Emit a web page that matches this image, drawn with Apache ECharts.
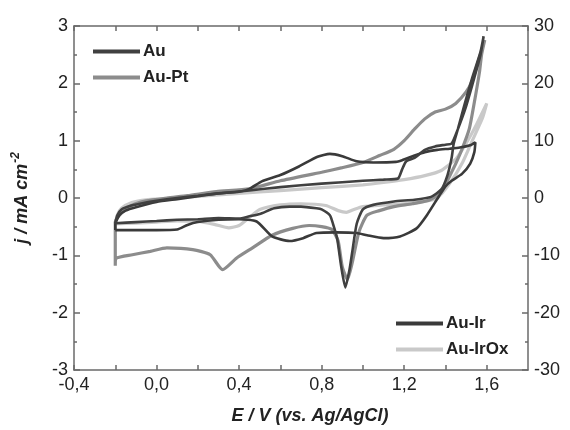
<!DOCTYPE html>
<html>
<head>
<meta charset="utf-8">
<script src="https://cdn.jsdelivr.net/npm/echarts@6/dist/echarts.min.js"></script>
<style>
html,body{margin:0;padding:0;background:#fff;}
#c{width:570px;height:430px;}
</style>
</head>
<body>
<div id="c"></div>
<script>
// ---- data (E in V vs Ag/AgCl, j in mA cm-2) ----
// Au (left axis)
var auE = [-0.2,-0.19,-0.17,-0.13,-0.08,0.0,0.1,0.2,0.3,0.45,0.6,0.8,1.0,1.1,1.17,1.19,1.21,1.25,1.3,1.35,1.4,1.43,1.46,1.5,1.54,1.57,1.585,
           1.57,1.53,1.49,1.46,1.44,1.43,1.41,1.38,1.33,1.25,1.15,1.05,1.0,0.97,0.95,0.935,0.915,0.895,0.875,0.855,0.84,0.8,0.775,0.7,0.645,0.57,0.5,0.45,0.4,0.3,0.2,0.1,0.0,-0.1,-0.2];
var auJ = [-0.44,-0.3,-0.2,-0.14,-0.1,-0.05,0.0,0.04,0.08,0.13,0.19,0.25,0.3,0.32,0.34,0.5,0.64,0.7,0.84,0.9,0.93,0.95,1.2,1.6,2.1,2.5,2.82,
           2.55,2.1,1.6,1.2,0.95,0.7,0.4,0.15,0.02,-0.03,-0.06,-0.12,-0.2,-0.45,-0.9,-1.25,-1.56,-1.2,-0.7,-0.45,-0.3,-0.2,-0.18,-0.15,-0.15,-0.18,-0.28,-0.32,-0.36,-0.35,-0.37,-0.38,-0.4,-0.42,-0.44];
// Au-Pt (left axis)
var ptE = [-0.2,-0.2,-0.18,-0.12,-0.05,0.05,0.15,0.29,0.45,0.6,0.8,0.9,1.0,1.08,1.15,1.2,1.25,1.3,1.35,1.4,1.45,1.5,1.53,1.56,1.59,
           1.575,1.565,1.54,1.515,1.48,1.45,1.42,1.38,1.32,1.24,1.15,1.08,1.02,0.98,0.95,0.925,0.9,0.88,0.85,0.8,0.74,0.66,0.56,0.465,0.387,0.32,0.26,0.175,0.05,-0.03,-0.117,-0.195,-0.2];
var ptJ = [-1.18,-0.42,-0.3,-0.13,-0.05,0.0,0.04,0.11,0.16,0.3,0.45,0.53,0.62,0.74,0.85,1.0,1.2,1.38,1.5,1.55,1.65,1.85,2.05,2.4,2.75,
           2.5,2.2,1.67,1.2,0.85,0.6,0.38,0.1,-0.04,-0.1,-0.15,-0.22,-0.3,-0.6,-1.1,-1.42,-1.2,-0.75,-0.55,-0.5,-0.48,-0.53,-0.65,-0.87,-1.05,-1.25,-0.99,-0.9,-0.87,-0.93,-0.99,-1.05,-1.18];
// Au-Ir (right axis)
var irE = [-0.2,-0.2,-0.18,-0.15,-0.1,0.0,0.1,0.2,0.3,0.4,0.45,0.51,0.6,0.69,0.78,0.84,0.9,0.97,1.05,1.16,1.19,1.25,1.3,1.36,1.42,1.47,1.52,1.545,
           1.54,1.52,1.48,1.43,1.4,1.37,1.31,1.26,1.18,1.1,1.02,0.97,0.87,0.775,0.71,0.645,0.56,0.485,0.4,0.3,0.2,0.15,0.1,0.0,-0.1,-0.2];
var irJ = [-5.6,-4.6,-3.0,-2.2,-1.6,-0.7,-0.2,0.3,0.8,1.1,1.6,2.9,4.0,5.5,7.2,7.7,7.3,6.4,6.2,6.3,6.6,7.4,8.0,8.4,8.6,8.8,9.2,9.7,
           8.0,6.0,4.2,3.0,2.0,0.4,-3.0,-5.3,-6.7,-7.0,-6.5,-6.1,-6.0,-6.1,-7.0,-7.5,-6.7,-4.1,-3.7,-3.8,-4.2,-4.7,-5.5,-5.6,-5.6,-5.6];
// Au-IrOx (right axis)
var oxE = [-0.2,-0.19,-0.17,-0.12,-0.05,0.05,0.2,0.4,0.6,0.8,1.0,1.1,1.2,1.3,1.38,1.45,1.5,1.55,1.6,
           1.58,1.53,1.48,1.42,1.36,1.3,1.2,1.1,1.0,0.95,0.92,0.88,0.82,0.7,0.6,0.5,0.45,0.4,0.35,0.28,0.2,0.1,0.0,-0.1,-0.2];
var oxJ = [-4.5,-3.0,-1.8,-0.8,-0.3,-0.1,0.3,0.8,1.3,1.8,2.3,2.7,3.2,3.9,4.8,6.8,9.5,12.8,16.5,
           14.0,10.0,6.0,2.5,0.0,-0.6,-1.0,-1.2,-1.5,-2.1,-2.5,-2.2,-1.3,-1.0,-1.2,-2.0,-3.4,-4.8,-5.2,-4.6,-4.1,-4.0,-4.2,-4.4,-4.5];

var seriesNames = ['Au', 'Au-Pt', 'Au-Ir', 'Au-IrOx'];
var xTickLabels = ['-0,4', '0,0', '0,4', '0,8', '1,2', '1,6'];

function zip(a, b) { var r = []; for (var i = 0; i < Math.min(a.length, b.length); i++) r.push([a[i], b[i]]); return r; }

var FONT = "'Liberation Sans', Arial, Helvetica, sans-serif";
var AX = '#6a6a6a';

var chart = echarts.init(document.getElementById('c'), null, {renderer: 'canvas'});

function xLabel(v) {
  var k = Math.round(v * 10);
  if (k % 4 !== 0) return '';
  var idx = Math.round((v + 0.4) / 0.4);
  return xTickLabels[idx] || '';
}

var option = {
  animation: false,
  backgroundColor: '#fff',
  grid: {left: 74, right: 42, top: 26, bottom: 57, containLabel: false},
  xAxis: [{
    type: 'value', min: -0.4, max: 1.8, interval: 0.2, position: 'bottom',
    axisLine: {show: true, onZero: false, lineStyle: {color: AX, width: 1.5}},
    axisTick: {show: true, inside: true, length: 5, lineStyle: {color: AX, width: 1.5}},
    axisLabel: {formatter: xLabel, color: '#222', fontSize: 18, fontFamily: FONT, margin: 6, showMaxLabel: false},
    splitLine: {show: false},
    name: 'E / V (vs. Ag/AgCl)', nameLocation: 'middle', nameGap: 37,
    nameTextStyle: {fontSize: 18, fontWeight: 'bold', fontStyle: 'italic', color: '#222', fontFamily: FONT, padding: [0, 0, 0, 18]}
  }, {
    type: 'value', min: -0.4, max: 1.8, interval: 0.2, position: 'top',
    axisLine: {show: true, onZero: false, lineStyle: {color: AX, width: 1.5}},
    axisTick: {show: true, inside: true, length: 5, lineStyle: {color: AX, width: 1.5}},
    axisLabel: {show: false}, splitLine: {show: false}
  }],
  yAxis: [{
    type: 'value', min: -3, max: 3, interval: 1, position: 'left',
    axisLine: {show: true, onZero: false, lineStyle: {color: AX, width: 1.5}},
    axisTick: {show: true, inside: true, length: 6, lineStyle: {color: AX, width: 1.5}},
    minorTick: {show: true, splitNumber: 2, length: 3, lineStyle: {color: AX, width: 1.5}},
    axisLabel: {color: '#222', fontSize: 18, fontFamily: FONT, margin: 6},
    splitLine: {show: false},
    name: '{a|j / mA cm}{s|-2}', nameLocation: 'middle', nameGap: 40, nameRotate: 90,
    nameTextStyle: {
      color: '#222', fontFamily: FONT,
      rich: {
        a: {fontSize: 18, fontWeight: 'bold', fontStyle: 'italic', color: '#222', fontFamily: FONT, lineHeight: 24},
        s: {fontSize: 12, fontWeight: 'bold', fontStyle: 'italic', color: '#222', fontFamily: FONT, verticalAlign: 'top', lineHeight: 24, padding: [0, 0, 10, 1]}
      }
    }
  }, {
    type: 'value', min: -30, max: 30, interval: 10, position: 'right',
    axisLine: {show: true, onZero: false, lineStyle: {color: AX, width: 1.5}},
    axisTick: {show: true, inside: true, length: 6, lineStyle: {color: AX, width: 1.5}},
    minorTick: {show: true, splitNumber: 2, length: 3, lineStyle: {color: AX, width: 1.5}},
    axisLabel: {color: '#222', fontSize: 18, fontFamily: FONT, margin: 6},
    splitLine: {show: false}
  }],
  legend: [{
    data: [seriesNames[0], seriesNames[1]], orient: 'vertical', left: 93, top: 43, padding: 0,
    itemWidth: 47, itemHeight: 4, itemGap: 9, icon: 'rect',
    textStyle: {fontSize: 17, fontWeight: 'bold', color: '#222', fontFamily: FONT, padding: [0, 0, 0, -2]}
  }, {
    data: [seriesNames[2], seriesNames[3]], orient: 'vertical', left: 396, top: 315, padding: 0,
    itemWidth: 47, itemHeight: 4, itemGap: 9, icon: 'rect',
    textStyle: {fontSize: 17, fontWeight: 'bold', color: '#222', fontFamily: FONT, padding: [0, 0, 0, -2]}
  }],
  series: [{
    name: 'Au-IrOx', type: 'line', xAxisIndex: 0, yAxisIndex: 1, data: zip(oxE, oxJ),
    showSymbol: false, smooth: 0.2, color: '#c9c9c9', lineStyle: {color: '#c9c9c9', width: 3.2}
  }, {
    name: 'Au-Pt', type: 'line', xAxisIndex: 0, yAxisIndex: 0, data: zip(ptE, ptJ),
    showSymbol: false, smooth: 0.2, color: '#8c8c8c', lineStyle: {color: '#8c8c8c', width: 3.2}
  }, {
    name: 'Au-Ir', type: 'line', xAxisIndex: 0, yAxisIndex: 1, data: zip(irE, irJ),
    showSymbol: false, smooth: 0.2, color: '#3a3a3a', lineStyle: {color: '#3a3a3a', width: 2.6}
  }, {
    name: 'Au', type: 'line', xAxisIndex: 0, yAxisIndex: 0, data: zip(auE, auJ),
    showSymbol: false, smooth: 0.2, color: '#404040', lineStyle: {color: '#404040', width: 2.6}
  }]
};
chart.setOption(option);
</script>
</body>
</html>
